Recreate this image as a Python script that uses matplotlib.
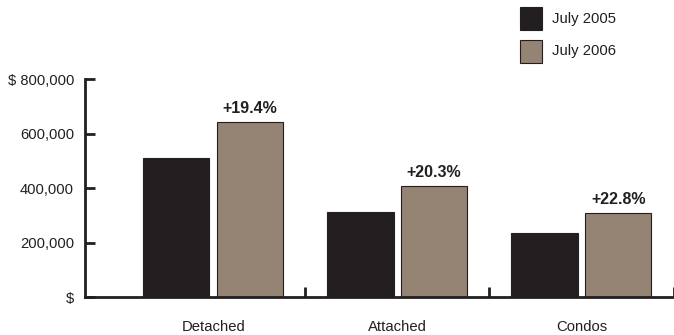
import matplotlib
matplotlib.use("Agg")
import matplotlib.pyplot as plt
from matplotlib.patches import Rectangle
import numpy as np

plt.rcParams['font.family'] = ['Liberation Sans', 'DejaVu Sans']

categories = ["Detached", "Attached", "Condos"]
series_names = ["July 2005", "July 2006"]
values_2005 = [510000, 313000, 237000]
values_2006 = [644000, 408000, 309000]
change_labels = ["+19.4%", "+20.3%", "+22.8%"]
ytick_values = [0, 200000, 400000, 600000, 800000]
ytick_labels = ["$", "200,000", "400,000", "600,000", "$ 800,000"]

dark = "#231f20"
tan = "#958373"
text_col = "#231f20"

W, H = 674, 335
fig = plt.figure(figsize=(W / 100, H / 100), dpi=100)
ax = fig.add_axes([85 / W, 37.7 / H, (673.5 - 85) / W, 218 / H])

x = np.arange(len(categories))
width = 0.36
off = 0.2
ax.bar(x - off, values_2005, width, color=dark, edgecolor=dark, linewidth=0.8)
ax.bar(x + off, values_2006, width, color=tan, edgecolor=dark, linewidth=0.8)

for xi, v, lab in zip(x, values_2006, change_labels):
    ax.annotate(lab, (xi + off, v), xytext=(0, 4.5), textcoords="offset points",
                ha="center", va="bottom", fontsize=11.5, fontweight="bold",
                color=text_col)

ax.set_xlim(-0.696, 2.5)
ax.set_ylim(0, 800000)

for side in ["top", "right"]:
    ax.spines[side].set_visible(False)
for side in ["left", "bottom"]:
    ax.spines[side].set_linewidth(2)
    ax.spines[side].set_color(dark)

ax.set_yticks(ytick_values)
ax.set_yticklabels(ytick_labels)
ax.tick_params(axis="y", direction="in", length=7, width=2, color=dark,
               labelsize=10.6, labelcolor=text_col, pad=8)

ax.set_xticks(x)
ax.set_xticklabels(categories)
ax.tick_params(axis="x", which="major", length=0, labelsize=10.7,
               labelcolor=text_col, pad=16.5)
ax.set_xticks([0.5, 1.5, 2.5], minor=True)
ax.tick_params(axis="x", which="minor", direction="in", length=7, width=2,
               color=dark)

# legend drawn in figure pixel coordinates
leg_colors = [dark, tan]
leg_y = [7.3, 40]
for name, col, ytop in zip(series_names, leg_colors, leg_y):
    fig.add_artist(Rectangle((519.5 / W, 1 - (ytop + 22.7) / H), 22.5 / W, 22.7 / H,
                             transform=fig.transFigure, facecolor=col,
                             edgecolor=dark, linewidth=0.8))
    fig.text(551.5 / W, 1 - (ytop + 11.5) / H, name, ha="left", va="center",
             fontsize=10.7, color=text_col)

fig.savefig("out.png", dpi=100)
